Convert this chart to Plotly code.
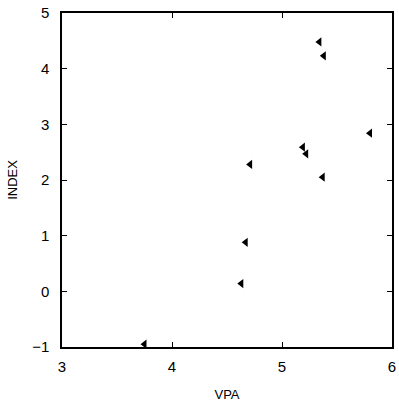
import plotly.graph_objects as go

vpa = [5.34, 5.38, 5.80, 5.19, 5.22, 4.71, 5.37, 4.67, 4.63, 3.75]
index = [4.48, 4.23, 2.84, 2.59, 2.47, 2.28, 2.05, 0.88, 0.14, -0.95]
x_ticks = [3, 4, 5, 6]
y_ticks = [-1, 0, 1, 2, 3, 4, 5]

fig = go.Figure()
fig.add_trace(go.Scatter(
    x=vpa, y=index, mode="markers",
    marker=dict(symbol="triangle-left", size=8, color="black"),
    showlegend=False,
))

font = dict(family="Liberation Sans, Arial, sans-serif", size=15, color="black")
title_font = dict(family="Liberation Sans, Arial, sans-serif", size=13, color="black")
axis_common = dict(
    showgrid=False, zeroline=False, showline=True, linecolor="black", linewidth=1.5,
    mirror="ticks", ticks="inside", ticklen=5, tickwidth=1.2, tickcolor="black",
    tickfont=font,
)
fig.update_layout(
    width=399, height=409,
    margin=dict(l=62, r=3, t=13, b=62),
    paper_bgcolor="white", plot_bgcolor="white",
    xaxis=dict(range=[3, 6], tickvals=x_ticks, ticklabelstandoff=5,
               title=dict(text="VPA", font=title_font, standoff=16),
               **axis_common),
    yaxis=dict(range=[-1, 5], tickvals=y_ticks, ticklabelstandoff=8,
               title=dict(text="INDEX", font=title_font, standoff=12),
               **axis_common),
)
fig.write_html("out.html")
